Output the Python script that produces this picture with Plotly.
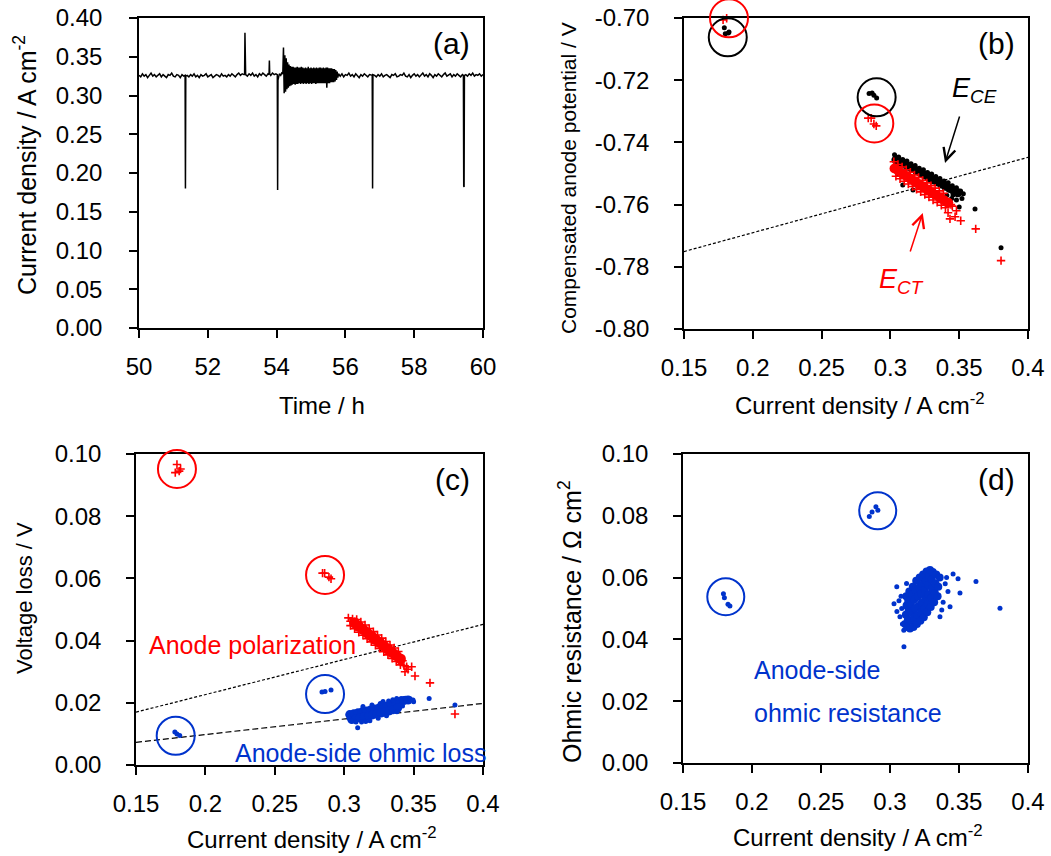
import plotly.graph_objects as go

# ---------------- (a) current density vs. time ----------------
# regularly sampled stretches: (start time, step, measured values)
seg_a = [0.326, 0.324, 0.328, 0.325, 0.327, 0.323, 0.326, 0.329, 0.325, 0.327,
         0.324, 0.326, 0.328, 0.324, 0.327, 0.325, 0.323, 0.327, 0.326, 0.329,
         0.325, 0.324, 0.327, 0.326, 0.323, 0.327, 0.325]
seg_b = [0.326, 0.324, 0.327, 0.325, 0.328, 0.324, 0.326, 0.323, 0.327, 0.325,
         0.326, 0.328, 0.324, 0.326, 0.327, 0.323, 0.325, 0.327, 0.326, 0.324,
         0.328, 0.325, 0.326, 0.324, 0.327, 0.325, 0.328, 0.326, 0.324, 0.327,
         0.329, 0.326, 0.328, 0.327]
seg_c = [0.327, 0.325, 0.328, 0.326, 0.329, 0.325, 0.327, 0.324, 0.328, 0.326,
         0.329, 0.327, 0.325, 0.328]
seg_d = [0.326, 0.329, 0.327, 0.328]
seg_noisy = [0.328, 0.362, 0.303, 0.352, 0.305, 0.348, 0.308, 0.343, 0.310, 0.340,
             0.312, 0.338, 0.313, 0.337, 0.314, 0.337, 0.315, 0.336, 0.314, 0.336,
             0.315, 0.337, 0.315, 0.336, 0.316, 0.336, 0.315, 0.337, 0.316, 0.336,
             0.315, 0.335, 0.316, 0.336, 0.315, 0.335, 0.316, 0.337, 0.315, 0.335,
             0.316, 0.336, 0.315, 0.335, 0.316, 0.336, 0.316, 0.335, 0.315, 0.336,
             0.316, 0.335, 0.316, 0.336, 0.316, 0.336, 0.316, 0.335, 0.316, 0.336,
             0.316, 0.335, 0.316, 0.336, 0.310, 0.336, 0.316, 0.335, 0.316, 0.335,
             0.317, 0.335, 0.317, 0.334, 0.317, 0.334, 0.318, 0.333, 0.320, 0.331,
             0.323, 0.328]
seg_f = [0.325, 0.328, 0.324, 0.327, 0.326, 0.329, 0.325, 0.327, 0.324, 0.328,
         0.326, 0.323, 0.327, 0.325, 0.328, 0.326, 0.324, 0.327, 0.326]
seg_g = [0.326, 0.324, 0.327, 0.325, 0.328, 0.324, 0.326, 0.327, 0.325, 0.323,
         0.327, 0.326, 0.328, 0.324, 0.325, 0.327, 0.326, 0.329, 0.325, 0.324,
         0.327, 0.323, 0.326, 0.328, 0.325, 0.327, 0.324, 0.326, 0.329, 0.325,
         0.327, 0.324, 0.328, 0.326, 0.323, 0.327, 0.325, 0.328, 0.326, 0.324,
         0.327, 0.329, 0.325, 0.326, 0.328, 0.324, 0.327, 0.325, 0.328, 0.326,
         0.324, 0.327]
seg_h = [0.327, 0.325, 0.328, 0.326, 0.329, 0.325, 0.327, 0.326, 0.328, 0.325, 0.327]

# short transients, recorded at their own time stamps
spike_1 = [(51.34, 0.326), (51.35, 0.180), (51.36, 0.325)]
spike_2 = [(53.07, 0.327), (53.08, 0.381), (53.09, 0.328)]
spike_3 = [(53.78, 0.327), (53.79, 0.345), (53.80, 0.328)]
spike_4 = [(54.02, 0.327), (54.03, 0.178), (54.04, 0.320), (54.08, 0.328),
           (54.12, 0.326), (54.15, 0.329)]
spike_5 = [(56.78, 0.326), (56.79, 0.180), (56.80, 0.327)]
spike_6 = [(59.43, 0.326), (59.44, 0.183), (59.45, 0.182), (59.46, 0.326)]

record = [
    ("run", 50.00, 0.05, seg_a), ("pts", spike_1),
    ("run", 51.40, 0.05, seg_b), ("pts", spike_2),
    ("run", 53.10, 0.05, seg_c), ("pts", spike_3),
    ("run", 53.83, 0.05, seg_d), ("pts", spike_4),
    ("run", 54.18, 0.02, seg_noisy),
    ("run", 55.85, 0.05, seg_f), ("pts", spike_5),
    ("run", 56.85, 0.05, seg_g), ("pts", spike_6),
    ("run", 59.50, 0.05, seg_h),
]
time_h, current_density = [], []
for item in record:
    if item[0] == "run":
        _, t0, dt, vals = item
        for i, v in enumerate(vals):
            time_h.append(round(t0 + i * dt, 4))
            current_density.append(v)
    else:
        for t, v in item[1]:
            time_h.append(t)
            current_density.append(v)

# ---------------- (b) compensated anode potential ----------------
ece_low = [(0.1793, -0.7031), (0.1800, -0.7051), (0.1822, -0.7048), (0.1827, -0.7045)]
ece_mid = [(0.2845, -0.7243), (0.2867, -0.7241), (0.2880, -0.7248), (0.2900, -0.7257)]
ece_core = [(0.304, -0.7456), (0.307, -0.7463), (0.310, -0.7470), (0.313, -0.7477),
            (0.316, -0.7484), (0.319, -0.7491), (0.322, -0.7498), (0.325, -0.7505),
            (0.328, -0.7513), (0.331, -0.7520), (0.334, -0.7527), (0.337, -0.7534),
            (0.340, -0.7541), (0.343, -0.7548), (0.346, -0.7555), (0.349, -0.7562)]
ece_edge = [(0.3030, -0.7440), (0.3045, -0.7449), (0.3060, -0.7447), (0.3090, -0.7455),
            (0.3120, -0.7460), (0.3150, -0.7469), (0.3180, -0.7474), (0.3210, -0.7483),
            (0.3240, -0.7488), (0.3270, -0.7497), (0.3300, -0.7502), (0.3330, -0.7510),
            (0.3360, -0.7516), (0.3390, -0.7524), (0.3420, -0.7530), (0.3450, -0.7539),
            (0.3480, -0.7546), (0.3510, -0.7556), (0.3530, -0.7565), (0.3455, -0.7569),
            (0.3500, -0.7608), (0.3480, -0.7585), (0.3520, -0.7580), (0.3445, -0.7580),
            (0.3410, -0.7570), (0.3090, -0.7537), (0.3164, -0.7553), (0.3050, -0.7500),
            (0.3040, -0.7475)]
ece_far = [(0.3615, -0.7614), (0.3804, -0.7739)]

ect_low = [(0.1784, -0.7006), (0.1810, -0.7001)]
ect_mid = [(0.2839, -0.7322), (0.2860, -0.7322), (0.2880, -0.7341), (0.2897, -0.7347)]
ect_core = [(0.303, -0.7484), (0.306, -0.7492), (0.309, -0.7501), (0.312, -0.7509),
            (0.315, -0.7518), (0.318, -0.7526), (0.321, -0.7535), (0.324, -0.7543),
            (0.327, -0.7552), (0.330, -0.7560), (0.333, -0.7569), (0.336, -0.7577),
            (0.339, -0.7586), (0.342, -0.7594)]
ect_edge = [(0.3025, -0.7462), (0.3055, -0.7471), (0.3085, -0.7479), (0.3115, -0.7488),
            (0.3145, -0.7496), (0.3175, -0.7505), (0.3205, -0.7513), (0.3235, -0.7522),
            (0.3265, -0.7530), (0.3295, -0.7539), (0.3325, -0.7547), (0.3355, -0.7556),
            (0.3385, -0.7564), (0.3040, -0.7509), (0.3070, -0.7517), (0.3100, -0.7525),
            (0.3130, -0.7534), (0.3160, -0.7542), (0.3190, -0.7551), (0.3220, -0.7559),
            (0.3250, -0.7568), (0.3280, -0.7576), (0.3310, -0.7585), (0.3340, -0.7593),
            (0.3370, -0.7602), (0.3400, -0.7610), (0.3419, -0.7626), (0.3470, -0.7639),
            (0.3433, -0.7646), (0.3511, -0.7652), (0.3450, -0.7605), (0.3480, -0.7620),
            (0.3440, -0.7600)]
ect_far = [(0.3620, -0.7678), (0.3804, -0.7780)]

ref_line_b_x = [0.15, 0.40]
ref_line_b_y = [-0.7751, -0.7448]

# ---------------- (c) voltage losses ----------------
pol_low = [(0.1795, 0.0966), (0.1783, 0.0940), (0.1811, 0.0945), (0.1821, 0.0952)]
pol_mid = [(0.2844, 0.0617), (0.2859, 0.0617), (0.2890, 0.0604), (0.2905, 0.0599)]
pol_core = [(0.3075, 0.0457), (0.3105, 0.0446), (0.3135, 0.0436), (0.3165, 0.0425),
            (0.3195, 0.0415), (0.3225, 0.0404), (0.3255, 0.0394), (0.3285, 0.0383),
            (0.3315, 0.0373), (0.3345, 0.0362), (0.3375, 0.0352), (0.3405, 0.0341)]
pol_edge = [(0.3030, 0.0473), (0.3045, 0.0462), (0.3060, 0.0470), (0.3090, 0.0468),
            (0.3120, 0.0460), (0.3150, 0.0450), (0.3180, 0.0439), (0.3210, 0.0429),
            (0.3240, 0.0418), (0.3270, 0.0408), (0.3300, 0.0397), (0.3330, 0.0386),
            (0.3360, 0.0376), (0.3390, 0.0365), (0.3045, 0.0448), (0.3075, 0.0438),
            (0.3105, 0.0427), (0.3135, 0.0417), (0.3165, 0.0406), (0.3195, 0.0396),
            (0.3225, 0.0385), (0.3255, 0.0375), (0.3285, 0.0364), (0.3315, 0.0354),
            (0.3345, 0.0343), (0.3375, 0.0333), (0.3405, 0.0322), (0.3430, 0.0320),
            (0.3450, 0.0316), (0.3438, 0.0300), (0.3486, 0.0316), (0.3510, 0.0286),
            (0.3420, 0.0335), (0.3460, 0.0308)]
pol_far = [(0.3618, 0.0264), (0.3798, 0.0164)]

ohm_low = [(0.1780, 0.0106), (0.1795, 0.0100), (0.1815, 0.0095)]
ohm_mid = [(0.2840, 0.0235), (0.2862, 0.0236), (0.2905, 0.0241)]
ohm_core = [(0.3040, 0.0162), (0.3070, 0.0165), (0.3100, 0.0168), (0.3130, 0.0171),
            (0.3160, 0.0174), (0.3190, 0.0177), (0.3220, 0.0180), (0.3250, 0.0183),
            (0.3280, 0.0186), (0.3310, 0.0190), (0.3340, 0.0194), (0.3370, 0.0199),
            (0.3400, 0.0203), (0.3430, 0.0207), (0.3460, 0.0209), (0.3055, 0.0146),
            (0.3085, 0.0149), (0.3115, 0.0152), (0.3145, 0.0155), (0.3175, 0.0158),
            (0.3205, 0.0161), (0.3235, 0.0164), (0.3265, 0.0167), (0.3295, 0.0170),
            (0.3325, 0.0174), (0.3355, 0.0178), (0.3385, 0.0183)]
ohm_edge = [(0.3030, 0.0160), (0.3035, 0.0150), (0.3050, 0.0142), (0.3085, 0.0138),
            (0.3097, 0.0120), (0.3125, 0.0138), (0.3135, 0.0188), (0.3155, 0.0140),
            (0.3185, 0.0142), (0.3200, 0.0193), (0.3245, 0.0150), (0.3260, 0.0198),
            (0.3280, 0.0204), (0.3305, 0.0158), (0.3320, 0.0206), (0.3350, 0.0210),
            (0.3378, 0.0214), (0.3380, 0.0171), (0.3410, 0.0214), (0.3440, 0.0215),
            (0.3475, 0.0213), (0.3496, 0.0209), (0.3500, 0.0203), (0.3420, 0.0190)]
ohm_far = [(0.3612, 0.0214), (0.3798, 0.0193)]

ref_line_pol_x = [0.15, 0.40]
ref_line_pol_y = [0.0170, 0.0452]
ref_line_ohm_x = [0.15, 0.40]
ref_line_ohm_y = [0.0073, 0.0198]

# ---------------- (d) anode-side ohmic resistance ----------------
res_low = [(0.1793, 0.0548), (0.1800, 0.0535), (0.1826, 0.0514), (0.1840, 0.0508)]
res_mid = [(0.2850, 0.0798), (0.2870, 0.0812), (0.2898, 0.0829), (0.2912, 0.0818)]
res_core = [(0.3110, 0.0450), (0.3115, 0.0480), (0.3120, 0.0510), (0.3118, 0.0540),
            (0.3125, 0.0440), (0.3130, 0.0465), (0.3135, 0.0495), (0.3132, 0.0525),
            (0.3140, 0.0555), (0.3145, 0.0435), (0.3150, 0.0460), (0.3155, 0.0488),
            (0.3152, 0.0515), (0.3160, 0.0545), (0.3165, 0.0570), (0.3170, 0.0440),
            (0.3175, 0.0470), (0.3180, 0.0500), (0.3178, 0.0530), (0.3185, 0.0560),
            (0.3190, 0.0590), (0.3195, 0.0450), (0.3200, 0.0478), (0.3205, 0.0508),
            (0.3203, 0.0538), (0.3210, 0.0568), (0.3215, 0.0600), (0.3220, 0.0460),
            (0.3225, 0.0488), (0.3230, 0.0518), (0.3228, 0.0548), (0.3235, 0.0578),
            (0.3240, 0.0610), (0.3245, 0.0472), (0.3250, 0.0500), (0.3255, 0.0530),
            (0.3253, 0.0560), (0.3260, 0.0590), (0.3265, 0.0620), (0.3270, 0.0488),
            (0.3275, 0.0515), (0.3280, 0.0545), (0.3278, 0.0575), (0.3285, 0.0605),
            (0.3290, 0.0625), (0.3295, 0.0505), (0.3300, 0.0535), (0.3305, 0.0565),
            (0.3303, 0.0595), (0.3310, 0.0618), (0.3320, 0.0520), (0.3325, 0.0550),
            (0.3330, 0.0580), (0.3335, 0.0610), (0.3345, 0.0540), (0.3350, 0.0570),
            (0.3360, 0.0600)]
res_scatter = [(0.3029, 0.0515), (0.3049, 0.0570), (0.3072, 0.0473), (0.3080, 0.0540),
               (0.3120, 0.0581), (0.3090, 0.0450), (0.3457, 0.0612), (0.3493, 0.0596),
               (0.3507, 0.0550), (0.3435, 0.0506), (0.3362, 0.0473), (0.3400, 0.0580),
               (0.3420, 0.0555), (0.3101, 0.0376), (0.3623, 0.0587), (0.3797, 0.0501),
               (0.3100, 0.0430), (0.3050, 0.0490), (0.3065, 0.0525), (0.3085, 0.0500),
               (0.3385, 0.0520), (0.3410, 0.0600), (0.3375, 0.0495)]

# ---------------- axis ticks ----------------
ticks_time = [50, 52, 54, 56, 58, 60]
ticks_time_txt = ["50", "52", "54", "56", "58", "60"]
ticks_cd = [0.00, 0.05, 0.10, 0.15, 0.20, 0.25, 0.30, 0.35, 0.40]
ticks_cd_txt = ["0.00", "0.05", "0.10", "0.15", "0.20", "0.25", "0.30", "0.35", "0.40"]
ticks_j = [0.15, 0.20, 0.25, 0.30, 0.35, 0.40]
ticks_j_txt = ["0.15", "0.2", "0.25", "0.3", "0.35", "0.4"]
ticks_pot = [-0.80, -0.78, -0.76, -0.74, -0.72, -0.70]
ticks_pot_txt = ["-0.80", "-0.78", "-0.76", "-0.74", "-0.72", "-0.70"]
ticks_loss = [0.00, 0.02, 0.04, 0.06, 0.08, 0.10]
ticks_loss_txt = ["0.00", "0.02", "0.04", "0.06", "0.08", "0.10"]

RED = "#FF0000"
BLUE = "#0033CC"
BLACK = "#000000"
FONT = "Liberation Sans, Arial, sans-serif"
W, H = 1051, 856


def xs(pts):
    return [p[0] for p in pts]


def ys(pts):
    return [p[1] for p in pts]


def dots(pts, xa, ya, color, size, symbol="circle"):
    return go.Scatter(x=xs(pts), y=ys(pts), mode="markers", cliponaxis=False,
                      marker=dict(symbol=symbol, size=size, color=color),
                      xaxis=xa, yaxis=ya)


def plus(pts, xa, ya, size=6):
    return go.Scatter(x=xs(pts), y=ys(pts), mode="markers", cliponaxis=False,
                      marker=dict(symbol="cross-thin", size=size, color=RED,
                                  line=dict(color=RED, width=1.6)),
                      xaxis=xa, yaxis=ya)


fig = go.Figure()

# (a)
fig.add_trace(go.Scatter(x=time_h, y=current_density, mode="lines",
                         line=dict(color=BLACK, width=1.5), xaxis="x", yaxis="y"))

# (b)
fig.add_trace(go.Scatter(x=ref_line_b_x, y=ref_line_b_y, mode="lines",
                         line=dict(color=BLACK, width=1.2, dash="3px,2px"),
                         xaxis="x2", yaxis="y2"))
fig.add_trace(dots(ece_core, "x2", "y2", BLACK, 9))
fig.add_trace(dots(ece_low + ece_mid + ece_edge + ece_far, "x2", "y2", BLACK, 5))
fig.add_trace(dots(ect_core, "x2", "y2", RED, 10))
fig.add_trace(plus(ect_low + ect_mid + ect_edge + ect_far, "x2", "y2"))

# (c)
fig.add_trace(go.Scatter(x=ref_line_pol_x, y=ref_line_pol_y, mode="lines",
                         line=dict(color=BLACK, width=1.2, dash="3px,2px"),
                         xaxis="x3", yaxis="y3"))
fig.add_trace(go.Scatter(x=ref_line_ohm_x, y=ref_line_ohm_y, mode="lines",
                         line=dict(color=BLACK, width=1.2, dash="6px,3px"),
                         xaxis="x3", yaxis="y3"))
fig.add_trace(dots(pol_core, "x3", "y3", RED, 11))
fig.add_trace(plus(pol_low + pol_mid + pol_edge + pol_far, "x3", "y3"))
fig.add_trace(dots(ohm_core, "x3", "y3", BLUE, 9))
fig.add_trace(dots(ohm_low + ohm_mid + ohm_edge + ohm_far, "x3", "y3", BLUE, 5))

# (d)
fig.add_trace(dots(res_core, "x4", "y4", BLUE, 8))
fig.add_trace(dots(res_low + res_mid + res_scatter, "x4", "y4", BLUE, 5))

# ---------------- layout ----------------
def px_dom_x(a, b):
    return [a / W, b / W]


def px_dom_y(top, bottom):
    return [1 - bottom / H, 1 - top / H]


dom = {
    "x": px_dom_x(139, 483), "y": px_dom_y(18, 328),
    "x2": px_dom_x(684, 1028), "y2": px_dom_y(18, 329),
    "x3": px_dom_x(136, 483), "y3": px_dom_y(454, 765),
    "x4": px_dom_x(683, 1028), "y4": px_dom_y(454, 763),
}
rng = {
    "x": [50, 60], "y": [0, 0.40],
    "x2": [0.15, 0.40], "y2": [-0.80, -0.70],
    "x3": [0.15, 0.40], "y3": [0, 0.10],
    "x4": [0.15, 0.40], "y4": [0, 0.10],
}

tick_font = dict(family=FONT, size=24, color=BLACK)


def axis(key, anchor, tv, tt, standoff):
    return dict(domain=dom[key], range=rng[key], anchor=anchor,
                showline=True, linecolor=BLACK, linewidth=1.5, mirror=True,
                ticks="outside", ticklen=8, tickwidth=1.5, tickcolor=BLACK,
                tickvals=tv, ticktext=tt, tickfont=tick_font,
                ticklabelstandoff=standoff, automargin=False,
                showgrid=False, zeroline=False, fixedrange=True)


fig.update_layout(
    width=W, height=H,
    margin=dict(l=0, r=0, t=0, b=0, pad=0, autoexpand=False),
    paper_bgcolor="white", plot_bgcolor="white", showlegend=False,
    font=dict(family=FONT, color=BLACK),
    xaxis=axis("x", "y", ticks_time, ticks_time_txt, 8),
    yaxis=axis("y", "x", ticks_cd, ticks_cd_txt, 22),
    xaxis2=axis("x2", "y2", ticks_j, ticks_j_txt, 8),
    yaxis2=axis("y2", "x2", ticks_pot, ticks_pot_txt, 20),
    xaxis3=axis("x3", "y3", ticks_j, ticks_j_txt, 8),
    yaxis3=axis("y3", "x3", ticks_loss, ticks_loss_txt, 20),
    xaxis4=axis("x4", "y4", ticks_j, ticks_j_txt, 8),
    yaxis4=axis("y4", "x4", ticks_loss, ticks_loss_txt, 20),
)


def to_paper(ax, v):
    d, r = dom[ax], rng[ax]
    return d[0] + (v - r[0]) / (r[1] - r[0]) * (d[1] - d[0])


def ring(xa, ya, cx, cy, r, color):
    return dict(type="circle", xref="paper", yref="paper",
                xsizemode="pixel", ysizemode="pixel",
                xanchor=to_paper(xa, cx), yanchor=to_paper(ya, cy),
                x0=-r, x1=r, y0=-r, y1=r,
                line=dict(color=color, width=2), layer="above")


fig.update_layout(shapes=[
    ring("x2", "y2", 0.1818, -0.7062, 19, BLACK),
    ring("x2", "y2", 0.1827, -0.7001, 19, RED),
    ring("x2", "y2", 0.2900, -0.7255, 19, BLACK),
    ring("x2", "y2", 0.2883, -0.7339, 19, RED),
    ring("x3", "y3", 0.1795, 0.0952, 19, RED),
    ring("x3", "y3", 0.2862, 0.0611, 19, RED),
    ring("x3", "y3", 0.1786, 0.0094, 19, BLUE),
    ring("x3", "y3", 0.2862, 0.0228, 19, BLUE),
    ring("x4", "y4", 0.1810, 0.0538, 18.5, BLUE),
    ring("x4", "y4", 0.2911, 0.0816, 18.5, BLUE),
])


def paper_text(text, xpx, ypx, size, angle=0, color=BLACK):
    return dict(text=text, xref="paper", yref="paper", x=xpx / W, y=1 - ypx / H,
                xanchor="center", yanchor="middle", showarrow=False,
                textangle=angle, font=dict(family=FONT, size=size, color=color))


ann = [
    # axis titles
    paper_text("Current density / A cm<sup>-2</sup>", 25, 165, 25, -90),
    paper_text("Time / h", 322, 405, 24),
    paper_text("Compensated anode potential / V", 569, 178, 21, -90),
    paper_text("Current density / A cm<sup>-2</sup>", 860, 404, 24),
    paper_text("Voltage loss / V", 24, 598, 22, -90),
    paper_text("Current density / A cm<sup>-2</sup>", 312, 838, 24),
    paper_text("Ohmic resistance / \u03a9 cm<sup>2</sup>", 570, 622, 25, -90),
    paper_text("Current density / A cm<sup>-2</sup>", 858, 836, 24),
]

# panel letters
for letter, xa, ya in (("(a)", "x", "y"), ("(b)", "x2", "y2"),
                       ("(c)", "x3", "y3"), ("(d)", "x4", "y4")):
    ann.append(dict(text=letter, xref=xa + " domain", yref=ya + " domain",
                    x=1, y=1, xanchor="right", yanchor="middle",
                    xshift=-11, yshift=-25, showarrow=False,
                    font=dict(family=FONT, size=30, color=BLACK)))

# series labels and arrows in (b)
ann += [
    dict(text="<i>E</i><sub><i>CE</i></sub>", xref="x2", yref="y2",
         x=0.3433, y=-0.7232, xanchor="left", yanchor="middle", showarrow=False,
         font=dict(family=FONT, size=27, color=BLACK)),
    dict(text="<i>E</i><sub><i>CT</i></sub>", xref="x2", yref="y2",
         x=0.2903, y=-0.7846, xanchor="left", yanchor="middle", showarrow=False,
         font=dict(family=FONT, size=27, color=RED)),
    dict(text="", xref="x2", yref="y2", x=0.3397, y=-0.7466, ax=15, ay=-48,
         showarrow=True, arrowhead=5, arrowsize=1.6, arrowwidth=1.5,
         arrowcolor=BLACK),
    dict(text="", xref="x2", yref="y2", x=0.3235, y=-0.7627, ax=-13, ay=40,
         showarrow=True, arrowhead=5, arrowsize=1.6, arrowwidth=1.5,
         arrowcolor=RED),
]

# series labels in (c) and (d)
ann += [
    dict(text="Anode polarization", xref="x3", yref="y3", x=0.1579, y=0.0386,
         xanchor="left", yanchor="middle", showarrow=False,
         font=dict(family=FONT, size=25, color=RED)),
    dict(text="Anode-side ohmic loss", xref="x3", yref="y3", x=0.2199, y=0.0039,
         xanchor="left", yanchor="middle", showarrow=False,
         font=dict(family=FONT, size=25, color=BLUE)),
    dict(text="Anode-side", xref="x4", yref="y4", x=0.1998, y=0.0301,
         xanchor="left", yanchor="middle", showarrow=False,
         font=dict(family=FONT, size=25, color=BLUE)),
    dict(text="ohmic resistance", xref="x4", yref="y4", x=0.1998, y=0.0162,
         xanchor="left", yanchor="middle", showarrow=False,
         font=dict(family=FONT, size=25, color=BLUE)),
]
fig.update_layout(annotations=ann)

fig.write_html("out.html")
